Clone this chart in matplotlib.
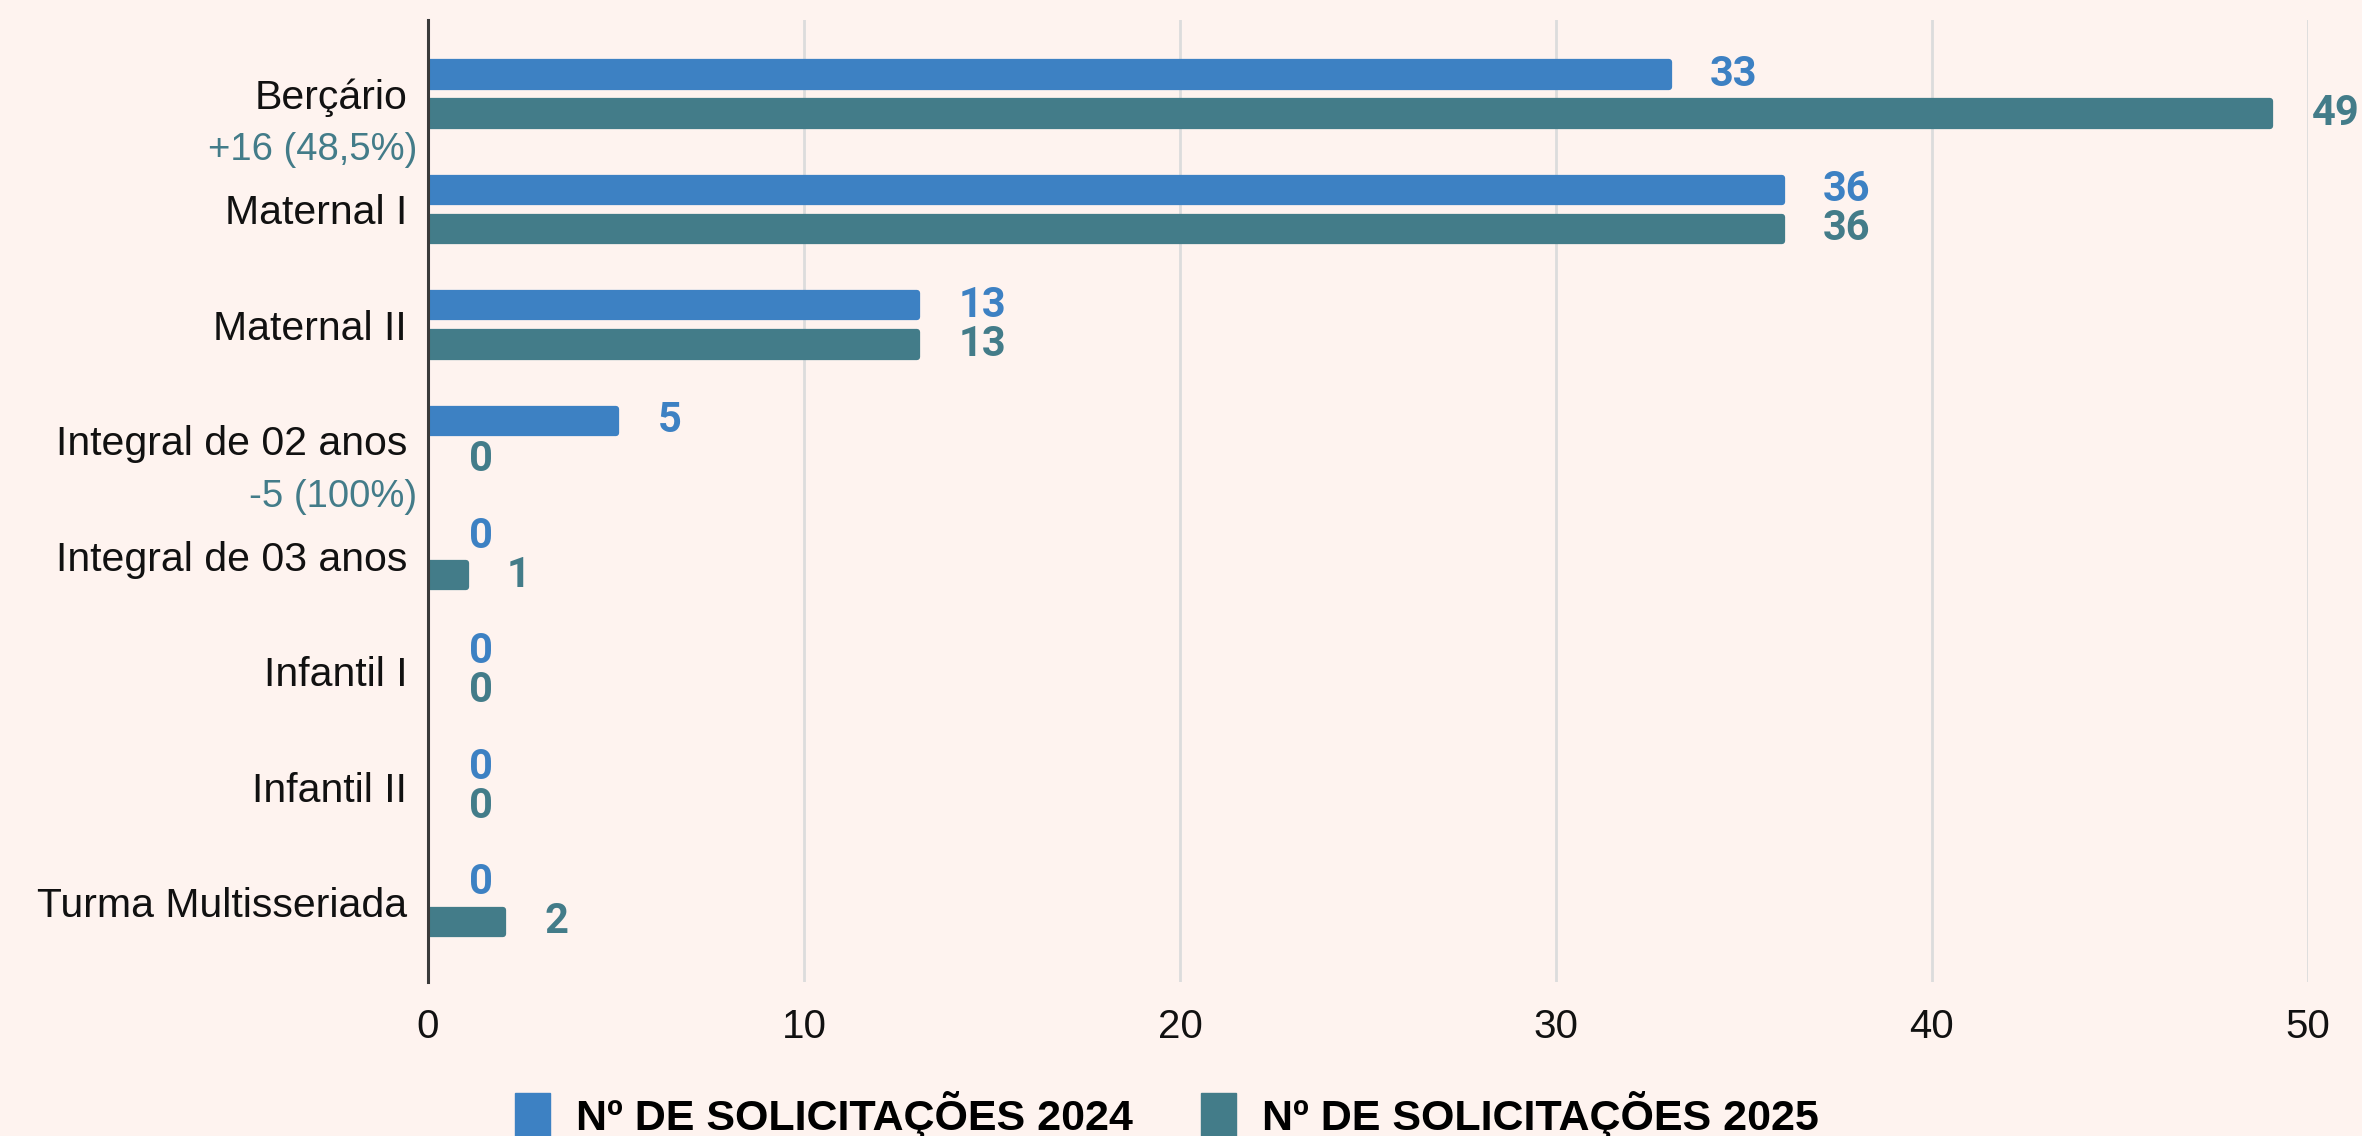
import numpy as np
import matplotlib.pyplot as plt
from matplotlib.patches import Patch

# data
categories = ['Berçário', 'Maternal I', 'Maternal II', 'Integral de 02 anos',
              'Integral de 03 anos', 'Infantil I', 'Infantil II', 'Turma Multisseriada']
sol_2024 = [33, 36, 13, 5, 0, 0, 0, 0]
sol_2025 = [49, 36, 13, 0, 1, 0, 0, 2]
series_names = ['Nº DE SOLICITAÇÕES 2024', 'Nº DE SOLICITAÇÕES 2025']
diff_notes = {0: '+16 (48,5%)', 3: '-5 (100%)'}
x_ticks = [0, 10, 20, 30, 40, 50]

BG = '#fef3ef'
BLUE = '#3d81c3'
TEAL = '#437c89'

plt.rcParams['font.family'] = ['Liberation Sans', 'DejaVu Sans']

fig = plt.figure(figsize=(23.62, 11.36), dpi=100, facecolor=BG)
ax = fig.add_axes([0.1812, 0.1356, 0.7959, 0.8468])
ax.set_facecolor(BG)

y = np.arange(len(categories))
offset = 0.169
bar_h = 0.21

for vals, dy, col in [(sol_2024, -offset, BLUE), (sol_2025, offset, TEAL)]:
    vals = np.array(vals)
    lw = np.where(vals > 0, 4.5, 0)
    ax.barh(y + dy, vals, height=bar_h, color=col, edgecolor=col,
            linewidth=lw, joinstyle='round', zorder=3)
    # value labels
    for yi, v in zip(y, vals):
        ax.text(v + 1.1, yi + dy, str(v), color=col, fontsize=30,
                fontweight='bold', family=['Roboto', 'DejaVu Sans'],
                va='center', ha='left', zorder=4, clip_on=False)

# difference notes under some category labels
for i, note in diff_notes.items():
    ax.annotate(note, xy=(0, i + 0.49), xycoords=ax.get_yaxis_transform(),
                xytext=(-8, 0), textcoords='offset points',
                ha='right', va='center', fontsize=27.5, color=TEAL)

ax.set_xlim(0, 50)
ax.set_ylim(7.69, -0.64)
ax.set_xticks(x_ticks)
ax.set_yticks(y)
ax.set_yticklabels(categories)
ax.tick_params(axis='y', length=0, pad=15, labelsize=29.5, labelcolor='#111111')
ax.tick_params(axis='x', length=0, pad=19, labelsize=29, labelcolor='#111111')

ax.grid(True, axis='x', color='#dcdcdc', linewidth=2, zorder=0)
ax.xaxis.get_gridlines()[0].set_visible(False)
for s in ['top', 'right', 'bottom']:
    ax.spines[s].set_visible(False)
ax.spines['left'].set_color('#3a3a3a')
ax.spines['left'].set_linewidth(2.2)
ax.spines['left'].set_zorder(5)

handles = [Patch(facecolor=BLUE, edgecolor=BLUE), Patch(facecolor=TEAL, edgecolor=TEAL)]
fig.legend(handles, series_names, loc='center', bbox_to_anchor=(0.494, 0.0185),
           ncol=2, frameon=False, handlelength=0.8, handleheight=1.2,
           handletextpad=0.6, columnspacing=1.6,
           prop={'weight': 'bold', 'size': 31})

fig.savefig('out.png', dpi=100, facecolor=BG)
